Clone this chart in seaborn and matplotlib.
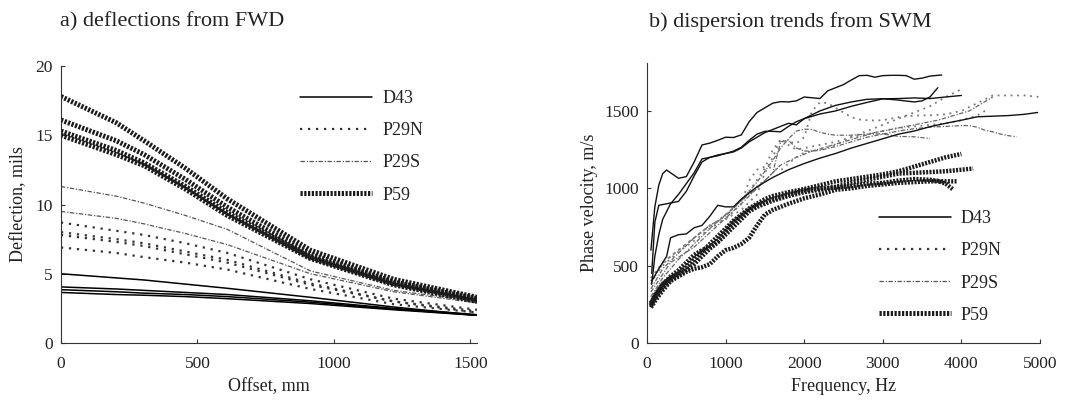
import pandas as pd
import seaborn as sns
import matplotlib.pyplot as plt
from matplotlib.lines import Line2D

# ---------- a) deflections from FWD ----------
offset_mm = [0, 203, 305, 457, 610, 914, 1219, 1524]

d43_fwd = [
    [5.0, 4.7, 4.55, 4.25, 3.95, 3.3, 2.6, 2.0],
    [4.05, 3.9, 3.8, 3.65, 3.5, 3.05, 2.5, 2.05],
    [3.85, 3.7, 3.6, 3.5, 3.35, 2.95, 2.45, 2.0],
    [3.65, 3.5, 3.45, 3.35, 3.2, 2.85, 2.4, 2.0],
]
p29n_fwd = [
    [8.7, 8.1, 7.8, 7.2, 6.5, 4.6, 3.2, 2.4],
    [8.0, 7.5, 7.2, 6.6, 6.0, 4.3, 3.0, 2.3],
    [7.8, 7.3, 7.0, 6.4, 5.8, 4.2, 3.0, 2.2],
    [6.9, 6.5, 6.2, 5.8, 5.3, 3.9, 2.8, 2.2],
]
p29s_fwd = [
    [11.3, 10.6, 10.1, 9.2, 8.2, 5.2, 3.8, 3.0],
    [9.5, 9.0, 8.6, 7.9, 7.1, 5.0, 3.7, 2.9],
]
p59_fwd = [
    [17.8, 15.9, 14.6, 12.6, 10.4, 6.7, 4.6, 3.3],
    [16.1, 14.6, 13.6, 11.8, 9.8, 6.4, 4.4, 3.2],
    [15.3, 13.9, 13.0, 11.3, 9.4, 6.2, 4.3, 3.1],
    [15.0, 13.6, 12.8, 11.1, 9.2, 6.1, 4.2, 3.0],
]

# ---------- b) dispersion trends from SWM (freq Hz, phase velocity m/s) ----------
d43_1 = [(50, 600), (100, 880), (150, 1020), (200, 1095), (250, 1118), (300, 1100), (400, 1065),
         (500, 1075), (600, 1170), (700, 1280), (800, 1292), (900, 1310), (1000, 1330), (1100, 1328),
         (1200, 1345), (1300, 1430), (1400, 1490), (1500, 1520), (1600, 1550), (1700, 1560),
         (1800, 1558), (1900, 1565), (2000, 1590), (2100, 1585), (2200, 1580), (2300, 1630),
         (2400, 1650), (2500, 1670), (2600, 1700), (2700, 1728), (2800, 1730), (2900, 1718),
         (3000, 1728), (3100, 1730), (3200, 1730), (3300, 1728), (3400, 1705), (3500, 1712),
         (3600, 1725), (3700, 1730), (3750, 1732)]
d43_2 = [(60, 450), (100, 780), (150, 890), (200, 895), (300, 905), (400, 915), (500, 980), (600, 1080),
         (700, 1170), (800, 1200), (900, 1210), (1000, 1225), (1100, 1240), (1200, 1265), (1300, 1310),
         (1400, 1350), (1500, 1368), (1600, 1368), (1700, 1365), (1800, 1400), (1900, 1430),
         (2000, 1450), (2200, 1480), (2400, 1500), (2600, 1530), (2800, 1555), (3000, 1578),
         (3200, 1580), (3400, 1584), (3600, 1580), (3800, 1590), (4000, 1600)]
d43_3 = [(60, 380), (100, 560), (150, 700), (200, 800), (300, 900), (400, 960), (500, 1030), (600, 1100),
         (700, 1190), (800, 1200), (900, 1215), (1000, 1225), (1100, 1235), (1200, 1260), (1300, 1300),
         (1400, 1330), (1500, 1360), (1600, 1380), (1700, 1400), (1800, 1420), (1900, 1410),
         (2000, 1450), (2200, 1500), (2400, 1536), (2600, 1558), (2800, 1575), (3000, 1579),
         (3200, 1570), (3400, 1558), (3500, 1565), (3600, 1590), (3700, 1650)]
d43_4 = [(60, 400), (150, 480), (250, 560), (300, 680), (400, 700), (500, 705), (600, 745), (700, 760),
         (800, 820), (900, 890), (1000, 880), (1100, 880), (1200, 930), (1400, 1010), (1600, 1070),
         (1800, 1120), (2000, 1160), (2200, 1195), (2400, 1225), (2600, 1260), (2800, 1290),
         (3000, 1320), (3200, 1350), (3400, 1370), (3600, 1398), (3800, 1420), (4000, 1440),
         (4200, 1462), (4400, 1466), (4600, 1470), (4800, 1478), (4970, 1490)]

p29n_1 = [(50, 380), (150, 480), (300, 560), (500, 640), (700, 720), (900, 790), (1100, 870), (1300, 980),
          (1500, 1130), (1600, 1250), (1700, 1310), (1800, 1300), (1900, 1290), (2000, 1330), (2100, 1500),
          (2200, 1555), (2300, 1550), (2400, 1520), (2500, 1490), (2600, 1460), (2700, 1445), (2800, 1440),
          (2900, 1438), (3000, 1440), (3200, 1460), (3400, 1470), (3600, 1472), (3800, 1478), (4000, 1500),
          (4200, 1550), (4400, 1600), (4600, 1600), (4800, 1600), (5000, 1590)]
p29n_2 = [(50, 420), (200, 520), (400, 600), (600, 680), (800, 760), (1000, 800), (1200, 900), (1300, 1050),
          (1400, 1120), (1500, 1140), (1600, 1130), (1700, 1115), (1800, 1160), (1900, 1200), (2000, 1230),
          (2200, 1250), (2400, 1280), (2600, 1330), (2800, 1370), (3000, 1410), (3200, 1450), (3400, 1490),
          (3600, 1530), (3800, 1590), (4000, 1640)]
p29n_3 = [(50, 400), (200, 500), (400, 590), (600, 660), (800, 740), (1000, 800), (1200, 860), (1400, 960),
          (1500, 1100), (1600, 1200), (1700, 1320), (1800, 1280), (1900, 1250), (2000, 1260), (2200, 1280),
          (2400, 1300), (2600, 1330), (2800, 1350), (3000, 1370), (3200, 1390), (3400, 1400), (3600, 1410),
          (3800, 1420), (4000, 1440), (4200, 1470), (4300, 1500)]

p29s_1 = [(50, 350), (200, 480), (400, 580), (600, 680), (800, 760), (1000, 820), (1200, 920), (1400, 1040),
          (1600, 1180), (1700, 1260), (1800, 1320), (1900, 1370), (2000, 1382), (2100, 1380), (2200, 1362),
          (2300, 1350), (2400, 1343), (2600, 1343), (2800, 1350), (3000, 1352), (3200, 1335), (3400, 1333),
          (3600, 1322)]
p29s_2 = [(50, 300), (200, 420), (400, 540), (600, 640), (800, 740), (1000, 830), (1200, 920), (1400, 1000),
          (1600, 1100), (1700, 1300), (1800, 1310), (1900, 1260), (2000, 1240), (2200, 1245), (2400, 1270),
          (2600, 1300), (2800, 1330), (3000, 1350), (3200, 1370), (3400, 1385), (3600, 1395), (3800, 1400),
          (4000, 1405), (4100, 1405), (4200, 1395), (4300, 1375), (4400, 1365), (4500, 1350), (4600, 1340),
          (4700, 1333)]
p29s_3 = [(50, 330), (300, 520), (600, 620), (900, 760), (1200, 900), (1500, 1050), (1700, 1150), (1900, 1200),
          (2100, 1240), (2300, 1270), (2500, 1300), (2700, 1330), (2900, 1360), (3100, 1380), (3300, 1400),
          (3500, 1420), (3700, 1440), (3900, 1470), (4100, 1500), (4300, 1560), (4400, 1590)]

p59_1 = [(50, 260), (100, 300), (200, 380), (300, 420), (400, 450), (500, 490), (600, 540), (700, 590),
         (800, 640), (900, 690), (1000, 740), (1100, 790), (1200, 830), (1300, 870), (1400, 900), (1500, 930),
         (1600, 950), (1800, 975), (2000, 995), (2200, 1020), (2400, 1045), (2600, 1060), (2800, 1075),
         (3000, 1090), (3200, 1110), (3400, 1140), (3600, 1170), (3800, 1200), (4000, 1222)]
p59_2 = [(50, 240), (100, 290), (200, 360), (300, 410), (400, 440), (500, 470), (600, 510), (700, 560),
         (800, 610), (900, 650), (1000, 700), (1100, 750), (1200, 800), (1300, 850), (1400, 880), (1500, 900),
         (1600, 920), (1800, 950), (2000, 975), (2200, 990), (2400, 1010), (2600, 1035), (2800, 1055),
         (3000, 1075), (3200, 1095), (3400, 1100), (3600, 1105), (3800, 1110), (4000, 1120), (4150, 1128)]
p59_3 = [(50, 230), (100, 270), (200, 340), (300, 400), (400, 430), (500, 460), (600, 480), (700, 490),
         (800, 510), (900, 560), (1000, 600), (1100, 615), (1200, 640), (1300, 680), (1400, 760), (1500, 830),
         (1600, 860), (1800, 900), (2000, 935), (2200, 960), (2400, 990), (2600, 1000), (2800, 1015),
         (3000, 1025), (3200, 1035), (3400, 1040), (3600, 1045), (3800, 1045), (3950, 1045)]
p59_4 = [(50, 250), (100, 310), (200, 380), (300, 430), (400, 470), (500, 520), (600, 570), (700, 600),
         (800, 620), (900, 660), (1000, 720), (1100, 780), (1200, 820), (1300, 860), (1400, 890), (1500, 910),
         (1600, 930), (1800, 960), (2000, 985), (2200, 1000), (2400, 1005), (2600, 1015), (2800, 1030),
         (3000, 1035), (3200, 1050), (3400, 1060), (3600, 1055), (3700, 1048), (3800, 1030), (3900, 990)]

labels = ['D43', 'P29N', 'P29S', 'P59']

# line look per section
styles = {
    'D43': dict(color='black', lw=1.1, linestyle='-'),
    'P29N': dict(color='#333333', lw=1.6, linestyle=(0, (1, 2.6))),
    'P29S': dict(color='#555555', lw=0.9, linestyle=(0, (3.5, 1.5, 1, 1.2))),
    'P59': dict(color='#1a1a1a', lw=3.6, linestyle=(0, (0.45, 0.3))),
}

rows = []
for name, curves in zip(labels, [d43_fwd, p29n_fwd, p29s_fwd, p59_fwd]):
    for i, c in enumerate(curves):
        for x, y in zip(offset_mm, c):
            rows.append((name, f'{name}_{i}', x, y))
df_fwd = pd.DataFrame(rows, columns=['section', 'curve', 'offset', 'deflection'])

swm = {'D43': [d43_1, d43_2, d43_3, d43_4],
       'P29N': [p29n_1, p29n_2, p29n_3],
       'P29S': [p29s_1, p29s_2, p29s_3],
       'P59': [p59_1, p59_2, p59_3, p59_4]}
rows = []
for name in labels:
    for i, c in enumerate(swm[name]):
        for f, v in c:
            rows.append((name, f'{name}_{i}', f, v))
df_swm = pd.DataFrame(rows, columns=['section', 'curve', 'freq', 'vel'])

sns.set_style('ticks')
plt.rcParams['font.family'] = ['Liberation Serif', 'DejaVu Serif']
plt.rcParams['xtick.direction'] = 'in'
plt.rcParams['ytick.direction'] = 'in'

fig = plt.figure(figsize=(10.85, 4.01), dpi=100)
ax1 = fig.add_axes([0.0562, 0.1446, 0.3834, 0.6908])
ax2 = fig.add_axes([0.5963, 0.1446, 0.3622, 0.6984])

# the P59 group drawn last so it sits on top like the original
for name in ['P29S', 'P29N', 'D43', 'P59']:
    sub = df_fwd[df_fwd.section == name]
    sns.lineplot(data=sub, x='offset', y='deflection', units='curve', estimator=None,
                 ax=ax1, legend=False, **styles[name])
    sub = df_swm[df_swm.section == name]
    st = dict(styles[name])
    if name == 'P29N':
        st.update(color='#777777', lw=1.3)
    if name == 'P29S':
        st.update(color='#666666', lw=0.9)
    if name == 'P59':
        st.update(lw=3.2)
    if name == 'D43':
        st.update(lw=1.0, color='#111111')
    sns.lineplot(data=sub, x='freq', y='vel', units='curve', estimator=None,
                 ax=ax2, legend=False, **st)

for ax in (ax1, ax2):
    sns.despine(ax=ax)
    for s in ax.spines.values():
        s.set_linewidth(0.8)
        s.set_color('#333333')
    ax.tick_params(labelsize=12.5, length=3, width=0.8, colors='#333333', labelcolor='#222222')
    ax.tick_params(axis='x', pad=9)
    ax.tick_params(axis='y', pad=6)

ax1.set_xlim(0, 1524)
ax1.set_ylim(0, 20)
ax1.set_xticks([0, 500, 1000, 1500])
ax1.set_yticks([0, 5, 10, 15, 20])
ax1.set_xlabel('Offset, mm', fontsize=13, color='#222222', labelpad=5)
ax1.set_ylabel('Deflection, mils', fontsize=13, color='#222222', labelpad=6)

ax2.set_xlim(0, 5000)
ax2.set_ylim(0, 1810)
ax2.set_xticks([0, 1000, 2000, 3000, 4000, 5000])
ax2.set_yticks([0, 500, 1000, 1500])
ax2.set_xlabel('Frequency, Hz', fontsize=13, color='#222222', labelpad=5)
ax2.set_ylabel('Phase velocity, m/s', fontsize=13, color='#222222', labelpad=4)

handles = [Line2D([], [], **styles[n]) for n in labels]
leg_kw = dict(frameon=False, fontsize=13, handlelength=4.0, handletextpad=0.55,
              labelspacing=0.84, borderpad=0, borderaxespad=0, loc='upper left')
l1 = ax1.legend(handles, labels, bbox_to_anchor=(0.575, 0.913), **leg_kw)
l2 = ax2.legend(handles, labels, bbox_to_anchor=(0.59, 0.474), **leg_kw)
for leg in (l1, l2):
    for t in leg.get_texts():
        t.set_color('#222222')

fig.text(0.055, 0.945, 'a) deflections from FWD', fontsize=16, color='#222222', va='center')
fig.text(0.598, 0.945, 'b) dispersion trends from SWM', fontsize=16, color='#222222', va='center')

fig.savefig('out.png', dpi=100)
